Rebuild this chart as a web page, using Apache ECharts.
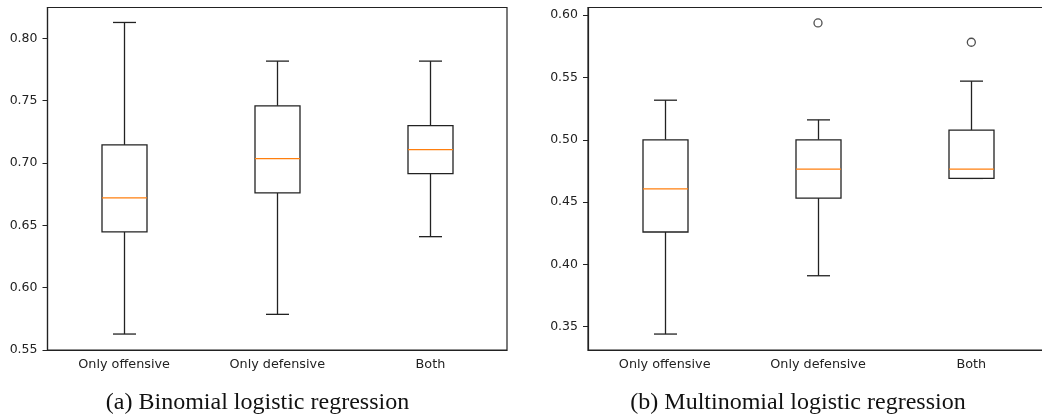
<!DOCTYPE html>
<html>
<head>
<meta charset="utf-8">
<script src="https://cdn.jsdelivr.net/npm/echarts@6/dist/echarts.min.js"></script>
<style>
html, body { margin: 0; padding: 0; background: #fff; }
#chart { width: 1042px; height: 416px; }
</style>
</head>
<body>
<div id="chart"></div>
<script>
"use strict";

/*-----data-----*/
var categories = ['Only offensive', 'Only defensive', 'Both'];
// [min whisker, q1, median, q3, max whisker]
var binomialStats = [
	[0.5628, 0.6447, 0.6720, 0.7145, 0.8127],
	[0.5786, 0.6760, 0.7035, 0.7458, 0.7817],
	[0.6409, 0.6915, 0.7107, 0.7300, 0.7817]
];
var multinomialStats = [
	[0.3441, 0.4260, 0.4607, 0.5000, 0.5318],
	[0.3909, 0.4532, 0.4765, 0.5000, 0.5160],
	[0.4690, 0.4690, 0.4765, 0.5078, 0.5471]
];
var multinomialOutliers = [[1, 0.5938], [2, 0.5783]];
var binomialTicks = [0.55, 0.60, 0.65, 0.70, 0.75, 0.80];
var multinomialTicks = [0.35, 0.40, 0.45, 0.50, 0.55, 0.60];

var lineColor = '#222';
var medianColor = '#ff7f0e';
var tickFont = 'DejaVu Sans';

function boxData(stats) {
	return stats.map(function (s, i) {
		return [i].concat(s);
	});
}

function renderBox(params, api) {
	var x = api.value(0);
	var pMin = api.coord([x, api.value(1)]);
	var pQ1 = api.coord([x, api.value(2)]);
	var pMed = api.coord([x, api.value(3)]);
	var pQ3 = api.coord([x, api.value(4)]);
	var pMax = api.coord([x, api.value(5)]);
	var cx = Math.round(pMin[0]) + 0.5;
	var hw = 22.5, cw = 11.5;
	var st = { stroke: lineColor, lineWidth: 1.3, fill: null };
	return {
		type: 'group',
		children: [
			{ type: 'line', shape: { x1: cx, y1: pQ3[1], x2: cx, y2: pMax[1] }, style: st },
			{ type: 'line', shape: { x1: cx, y1: pQ1[1], x2: cx, y2: pMin[1] }, style: st },
			{ type: 'line', shape: { x1: cx - cw, y1: pMax[1], x2: cx + cw, y2: pMax[1] }, style: st },
			{ type: 'line', shape: { x1: cx - cw, y1: pMin[1], x2: cx + cw, y2: pMin[1] }, style: st },
			{ type: 'rect', shape: { x: cx - hw, y: pQ3[1], width: hw * 2, height: pQ1[1] - pQ3[1] }, style: { stroke: lineColor, lineWidth: 1.3, fill: '#fff' } },
			{ type: 'line', shape: { x1: cx - hw, y1: pMed[1], x2: cx + hw, y2: pMed[1] }, style: { stroke: medianColor, lineWidth: 1.3 } }
		]
	};
}

function makeX(gridIndex) {
	return {
		type: 'category',
		gridIndex: gridIndex,
		data: categories,
		boundaryGap: true,
		axisLine: { lineStyle: { color: lineColor, width: 1.2 } },
		axisTick: { alignWithLabel: true, length: 5, lineStyle: { color: lineColor } },
		axisLabel: { color: '#222', fontFamily: tickFont, fontSize: 12.8, margin: 8 },
		splitLine: { show: false }
	};
}

function makeY(gridIndex, min, max, ticks) {
	return {
		type: 'value',
		gridIndex: gridIndex,
		min: min,
		max: max,
		axisLine: { show: true, lineStyle: { color: lineColor, width: 1.2 } },
		axisTick: { show: true, length: 5, customValues: ticks, lineStyle: { color: lineColor } },
		axisLabel: {
			customValues: ticks,
			color: '#222',
			fontFamily: tickFont,
			fontSize: 12.5,
			margin: 10,
			formatter: function (v) { return v.toFixed(2); }
		},
		splitLine: { show: false }
	};
}

var chart = echarts.init(document.getElementById('chart'), null, { renderer: 'canvas' });
var option = {
	animation: false,
	backgroundColor: '#fff',
	grid: [
		{ left: 47.5, top: 7.5, right: 535, bottom: 66, outerBoundsMode: 'none', containLabel: false, show: true, borderColor: lineColor, borderWidth: 1.2, backgroundColor: 'transparent' },
		{ left: 588, top: 7.5, right: -6, bottom: 66, outerBoundsMode: 'none', containLabel: false, show: true, borderColor: lineColor, borderWidth: 1.2, backgroundColor: 'transparent' }
	],
	xAxis: [makeX(0), makeX(1)],
	yAxis: [
		makeY(0, 0.55, 0.8247, binomialTicks),
		makeY(1, 0.3313, 0.6062, multinomialTicks)
	],
	series: [{
		type: 'custom',
		xAxisIndex: 0,
		yAxisIndex: 0,
		renderItem: renderBox,
		encode: { x: 0, y: [1, 2, 3, 4, 5] },
		data: boxData(binomialStats)
	}, {
		type: 'custom',
		xAxisIndex: 1,
		yAxisIndex: 1,
		renderItem: renderBox,
		encode: { x: 0, y: [1, 2, 3, 4, 5] },
		data: boxData(multinomialStats)
	}, {
		type: 'scatter',
		xAxisIndex: 1,
		yAxisIndex: 1,
		symbol: 'circle',
		symbolSize: 8,
		itemStyle: { color: '#fff', borderColor: lineColor, borderWidth: 1.3 },
		data: multinomialOutliers
	}],
	graphic: [{
		type: 'text',
		x: 257.5,
		y: 403,
		style: { text: '(a) Binomial logistic regression', font: '24px "Liberation Serif"', fill: '#111', textAlign: 'center', textVerticalAlign: 'middle' }
	}, {
		type: 'text',
		x: 798,
		y: 403,
		style: { text: '(b) Multinomial logistic regression', font: '24px "Liberation Serif"', fill: '#111', textAlign: 'center', textVerticalAlign: 'middle' }
	}]
};
chart.setOption(option);
window.addEventListener('resize', function () {
	chart.resize();
});
</script>
</body>
</html>
